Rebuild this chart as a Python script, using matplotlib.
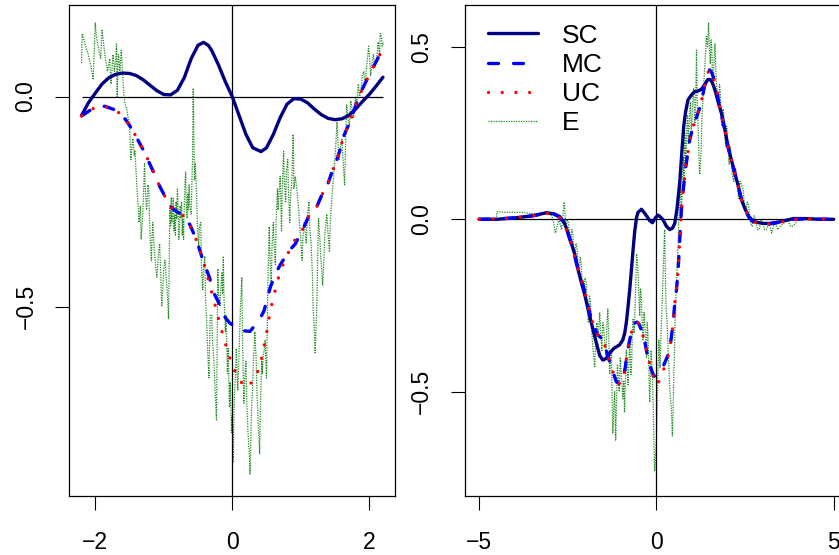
import matplotlib
matplotlib.use("Agg")
import matplotlib.pyplot as plt

plt.rcParams['font.family'] = ['Liberation Sans', 'DejaVu Sans']

# ---- left panel data ----
sc_left_x = [-2.2, -2.1, -2.0, -1.9, -1.8, -1.7, -1.6, -1.5, -1.4, -1.3, -1.2, -1.1, -1.0,
             -0.9, -0.8, -0.7, -0.6, -0.5, -0.42, -0.35, -0.3, -0.2, -0.1, 0.0, 0.1, 0.2,
             0.3, 0.42, 0.5, 0.6, 0.7, 0.8, 0.9, 1.0, 1.1, 1.2, 1.3, 1.4, 1.5, 1.6, 1.7,
             1.8, 1.9, 2.0, 2.1, 2.2]
sc_left_y = [-0.045, -0.015, 0.008, 0.03, 0.045, 0.053, 0.056, 0.055, 0.05, 0.04, 0.027,
             0.014, 0.005, 0.004, 0.015, 0.045, 0.09, 0.122, 0.129, 0.122, 0.11, 0.075,
             0.035, 0.0, -0.045, -0.09, -0.122, -0.131, -0.122, -0.09, -0.05, -0.018,
             -0.005, -0.006, -0.015, -0.03, -0.043, -0.052, -0.055, -0.053, -0.045, -0.03,
             -0.012, 0.005, 0.025, 0.046]

mc_left_x = [-2.2, -2.04, -1.86, -1.69, -1.556, -1.45, -1.366, -1.278, -1.205, -1.132,
             -1.058, -0.975, -0.887, -0.81, -0.726, -0.619, -0.546, -0.483, -0.433, -0.385,
             -0.33, -0.28, -0.2, -0.13, -0.044, 0.11, 0.26, 0.395, 0.464, 0.52, 0.56, 0.64,
             0.7, 0.82, 0.92, 1.04, 1.113, 1.235, 1.309, 1.391, 1.455, 1.518, 1.577, 1.625,
             1.699, 1.763, 1.821, 1.894, 1.977, 2.055, 2.138, 2.2]
mc_left_y = [-0.046, -0.029, -0.023, -0.033, -0.055, -0.081, -0.107, -0.133, -0.16, -0.186,
             -0.214, -0.24, -0.264, -0.274, -0.282, -0.305, -0.332, -0.361, -0.387, -0.408,
             -0.432, -0.464, -0.49, -0.52, -0.538, -0.557, -0.559, -0.532, -0.51, -0.476,
             -0.452, -0.419, -0.401, -0.369, -0.351, -0.313, -0.286, -0.262, -0.234, -0.21,
             -0.18, -0.155, -0.125, -0.095, -0.067, -0.04, -0.012, 0.016, 0.044, 0.069,
             0.095, 0.113]

uc_left_x = [-2.2, -2.04, -1.86, -1.69, -1.556, -1.45, -1.366, -1.278, -1.205, -1.132,
             -1.058, -0.975, -0.887, -0.81, -0.726, -0.619, -0.546, -0.483, -0.433, -0.385,
             -0.337, -0.287, -0.243, -0.195, -0.151, -0.102, -0.048, 0.015, 0.083, 0.2,
             0.322, 0.391, 0.435, 0.469, 0.503, 0.532, 0.567, 0.61, 0.65, 0.703, 0.767,
             0.845, 0.933, 1.04, 1.113, 1.235, 1.309, 1.391, 1.455, 1.518, 1.577, 1.625,
             1.699, 1.763, 1.821, 1.894, 1.977, 2.055, 2.138, 2.2]
uc_left_y = [-0.046, -0.029, -0.023, -0.033, -0.055, -0.081, -0.107, -0.133, -0.16, -0.186,
             -0.214, -0.24, -0.264, -0.274, -0.282, -0.305, -0.332, -0.361, -0.387, -0.412,
             -0.444, -0.474, -0.501, -0.532, -0.559, -0.587, -0.616, -0.645, -0.671, -0.693,
             -0.675, -0.647, -0.619, -0.59, -0.561, -0.532, -0.502, -0.474, -0.444, -0.417,
             -0.389, -0.363, -0.335, -0.313, -0.286, -0.262, -0.234, -0.21, -0.18, -0.155,
             -0.125, -0.095, -0.067, -0.04, -0.012, 0.016, 0.044, 0.069, 0.095, 0.113]

e_left_points = [
    (-2.20, 0.08), (-2.19, 0.15), (-2.14, 0.12), (-2.10, 0.10), (-2.06, 0.07), (-2.03, 0.04),
    (-2.00, 0.175), (-1.98, 0.14), (-1.96, 0.12), (-1.92, 0.09), (-1.90, 0.16), (-1.88, 0.13),
    (-1.86, 0.10), (-1.84, 0.08), (-1.82, 0.06), (-1.79, 0.09), (-1.77, 0.03), (-1.75, 0.08),
    (-1.74, 0.10), (-1.72, 0.06), (-1.70, 0.09), (-1.69, 0.125), (-1.68, 0.00), (-1.67, 0.07),
    (-1.66, 0.10), (-1.64, 0.06), (-1.62, 0.11), (-1.60, 0.05), (-1.58, 0.00), (-1.56, -0.02),
    (-1.54, -0.03), (-1.52, -0.05), (-1.50, -0.07), (-1.48, -0.15), (-1.46, -0.11),
    (-1.45, -0.10), (-1.43, -0.14), (-1.42, -0.13), (-1.40, -0.19), (-1.39, -0.22),
    (-1.37, -0.27), (-1.36, -0.30), (-1.34, -0.26), (-1.33, -0.34), (-1.31, -0.29),
    (-1.30, -0.25), (-1.28, -0.16), (-1.27, -0.22), (-1.25, -0.27), (-1.23, -0.21),
    (-1.22, -0.22), (-1.20, -0.33), (-1.18, -0.39), (-1.17, -0.33), (-1.16, -0.30),
    (-1.14, -0.36), (-1.12, -0.40), (-1.10, -0.43), (-1.08, -0.38), (-1.06, -0.35),
    (-1.04, -0.44), (-1.03, -0.50), (-1.01, -0.45), (-1.00, -0.41), (-0.98, -0.39),
    (-0.96, -0.44), (-0.95, -0.46), (-0.93, -0.53), (-0.92, -0.40), (-0.91, -0.26),
    (-0.90, -0.31), (-0.89, -0.24), (-0.88, -0.30), (-0.87, -0.27), (-0.86, -0.24),
    (-0.85, -0.32), (-0.84, -0.28), (-0.83, -0.33), (-0.82, -0.25), (-0.81, -0.29),
    (-0.80, -0.22), (-0.79, -0.27), (-0.78, -0.34), (-0.77, -0.31), (-0.76, -0.26),
    (-0.75, -0.29), (-0.74, -0.25), (-0.73, -0.33), (-0.72, -0.29), (-0.71, -0.34),
    (-0.70, -0.26), (-0.69, -0.21), (-0.68, -0.18), (-0.67, -0.26), (-0.66, -0.29),
    (-0.65, -0.23), (-0.64, -0.27), (-0.63, -0.21), (-0.62, -0.26), (-0.60, -0.28),
    (-0.58, -0.15), (-0.57, 0.02), (-0.56, -0.10), (-0.55, -0.20), (-0.54, -0.16),
    (-0.52, -0.23), (-0.51, -0.30), (-0.49, -0.36), (-0.48, -0.31), (-0.46, -0.30),
    (-0.45, -0.40), (-0.43, -0.46), (-0.42, -0.41), (-0.40, -0.38), (-0.39, -0.48),
    (-0.37, -0.55), (-0.36, -0.60), (-0.34, -0.67), (-0.33, -0.58), (-0.32, -0.52),
    (-0.30, -0.52), (-0.29, -0.58), (-0.27, -0.62), (-0.25, -0.70), (-0.23, -0.77),
    (-0.22, -0.60), (-0.21, -0.41), (-0.20, -0.47), (-0.18, -0.50), (-0.16, -0.44),
    (-0.15, -0.42), (-0.14, -0.47), (-0.13, -0.38), (-0.12, -0.48), (-0.10, -0.56),
    (-0.09, -0.52), (-0.07, -0.66), (-0.06, -0.60), (-0.04, -0.74), (-0.03, -0.68),
    (-0.01, -0.80), (0.00, -0.76), (0.015, -0.87), (0.02, -0.80), (0.03, -0.72),
    (0.05, -0.65), (0.06, -0.60), (0.08, -0.70), (0.09, -0.66), (0.11, -0.55), (0.12, -0.50),
    (0.13, -0.47), (0.14, -0.43), (0.15, -0.58), (0.17, -0.73), (0.18, -0.68), (0.20, -0.63),
    (0.21, -0.72), (0.23, -0.80), (0.25, -0.85), (0.26, -0.90), (0.27, -0.82), (0.28, -0.75),
    (0.30, -0.68), (0.31, -0.62), (0.32, -0.60), (0.33, -0.56), (0.35, -0.63), (0.36, -0.70),
    (0.38, -0.78), (0.40, -0.85), (0.41, -0.75), (0.43, -0.63), (0.44, -0.66), (0.45, -0.62),
    (0.47, -0.60), (0.48, -0.58), (0.49, -0.63), (0.50, -0.67), (0.52, -0.45), (0.54, -0.31),
    (0.55, -0.38), (0.57, -0.45), (0.58, -0.36), (0.60, -0.30), (0.61, -0.35), (0.63, -0.40),
    (0.64, -0.30), (0.66, -0.22), (0.67, -0.27), (0.68, -0.24), (0.70, -0.19), (0.71, -0.26),
    (0.72, -0.32), (0.73, -0.22), (0.75, -0.13), (0.76, -0.20), (0.78, -0.25), (0.79, -0.18),
    (0.81, -0.15), (0.82, -0.22), (0.84, -0.30), (0.85, -0.24), (0.87, -0.20), (0.88, -0.14),
    (0.89, -0.09), (0.90, -0.22), (0.92, -0.19), (0.95, -0.23), (0.97, -0.27), (0.98, -0.30),
    (1.00, -0.34), (1.02, -0.39), (1.03, -0.34), (1.05, -0.30), (1.07, -0.33), (1.08, -0.35),
    (1.10, -0.28), (1.12, -0.25), (1.13, -0.31), (1.15, -0.35), (1.17, -0.42), (1.18, -0.50),
    (1.20, -0.56), (1.21, -0.61), (1.23, -0.52), (1.24, -0.45), (1.25, -0.36), (1.26, -0.29),
    (1.28, -0.34), (1.29, -0.38), (1.31, -0.42), (1.32, -0.45), (1.34, -0.38), (1.35, -0.33),
    (1.37, -0.30), (1.38, -0.28), (1.40, -0.33), (1.42, -0.37), (1.43, -0.30), (1.45, -0.25),
    (1.47, -0.21), (1.48, -0.19), (1.50, -0.14), (1.51, -0.12), (1.53, -0.06), (1.54, -0.10),
    (1.56, -0.15), (1.58, -0.12), (1.60, -0.10), (1.62, -0.16), (1.64, -0.21), (1.66, -0.08),
    (1.67, -0.02), (1.69, -0.05), (1.71, -0.07), (1.73, -0.01), (1.75, -0.03), (1.77, -0.05),
    (1.80, 0.00), (1.82, -0.02), (1.84, 0.03), (1.86, 0.00), (1.88, 0.02), (1.90, 0.05),
    (1.92, 0.06), (1.94, 0.03), (1.96, 0.07), (1.98, 0.10), (1.99, 0.12), (2.01, 0.08),
    (2.02, 0.05), (2.04, 0.08), (2.06, 0.10), (2.08, 0.07), (2.10, 0.08), (2.12, 0.11),
    (2.13, 0.13), (2.15, 0.10), (2.16, 0.15), (2.18, 0.14), (2.19, 0.12), (2.21, 0.13),
]

# ---- right panel data ----
sc_right_x = [-5.0, -4.5, -4.0, -3.5, -3.1, -2.9, -2.73, -2.6, -2.54, -2.43, -2.31, -2.2,
              -2.1, -2.03, -1.93, -1.81, -1.69, -1.6, -1.51, -1.41, -1.32, -1.2, -1.04,
              -0.95, -0.895, -0.85, -0.8, -0.75, -0.706, -0.66, -0.613, -0.56, -0.52,
              -0.424, -0.35, -0.265, -0.19, -0.113, -0.03, 0.045, 0.12, 0.19, 0.28, 0.376,
              0.45, 0.517, 0.58, 0.66, 0.72, 0.77, 0.82, 0.89, 1.0, 1.08, 1.18, 1.27, 1.36,
              1.45, 1.52, 1.58, 1.65, 1.74, 1.84, 1.93, 2.02, 2.12, 2.21, 2.3, 2.4, 2.5,
              2.59, 2.7, 2.8, 3.0, 3.2, 3.5, 3.86, 4.2, 4.6, 5.0]
sc_right_y = [0.0, 0.0, 0.004, 0.01, 0.019, 0.016, 0.008, -0.01, -0.026, -0.06, -0.099,
              -0.15, -0.19, -0.215, -0.26, -0.311, -0.36, -0.395, -0.408, -0.403, -0.388,
              -0.374, -0.364, -0.35, -0.33, -0.3, -0.253, -0.2, -0.147, -0.09, -0.035,
              0.005, 0.02, 0.029, 0.02, 0.008, -0.004, -0.01, 0.004, 0.012, 0.006, -0.002,
              -0.02, -0.03, -0.026, -0.012, 0.03, 0.11, 0.2, 0.27, 0.31, 0.346, 0.362,
              0.37, 0.372, 0.377, 0.39, 0.405, 0.405, 0.395, 0.375, 0.34, 0.305, 0.26,
              0.21, 0.17, 0.133, 0.1, 0.056, 0.03, 0.01, -0.003, -0.008, -0.012, -0.012,
              -0.007, 0.002, 0.002, 0.0, 0.0]

mc_right_x = [-5.0, -4.5, -4.0, -3.5, -3.1, -2.9, -2.75, -2.62, -2.5, -2.36, -2.25, -2.17,
              -2.1, -2.03, -1.95, -1.88, -1.79, -1.72, -1.65, -1.55, -1.46, -1.35, -1.25,
              -1.13, -1.05, -0.96, -0.876, -0.83, -0.754, -0.71, -0.613, -0.55, -0.5,
              -0.424, -0.33, -0.237, -0.141, -0.07, 0.0, 0.05, 0.12, 0.186, 0.28, 0.376,
              0.47, 0.517, 0.565, 0.61, 0.658, 0.706, 0.751, 0.828, 0.94, 1.034, 1.147,
              1.243, 1.316, 1.393, 1.45, 1.5, 1.56, 1.6, 1.695, 1.816, 1.93, 2.02, 2.12,
              2.21, 2.3, 2.4, 2.5, 2.6, 2.7, 2.85, 3.06, 3.3, 3.5, 3.86, 4.2, 4.6, 5.0]
mc_right_y = [0.0, 0.001, 0.004, 0.01, 0.017, 0.015, 0.008, -0.01, -0.04, -0.084, -0.13,
              -0.161, -0.18, -0.205, -0.24, -0.272, -0.301, -0.32, -0.335, -0.345, -0.364,
              -0.403, -0.435, -0.471, -0.476, -0.474, -0.427, -0.388, -0.35, -0.33, -0.301,
              -0.298, -0.302, -0.321, -0.355, -0.403, -0.437, -0.455, -0.451, -0.44,
              -0.432, -0.427, -0.405, -0.379, -0.301, -0.243, -0.205, -0.15, -0.06, 0.03,
              0.08, 0.152, 0.23, 0.27, 0.3, 0.331, 0.365, 0.404, 0.425, 0.433, 0.425,
              0.413, 0.375, 0.307, 0.26, 0.21, 0.17, 0.133, 0.098, 0.056, 0.028, 0.008,
              -0.005, -0.012, -0.014, -0.012, -0.008, 0.0, 0.001, 0.0, 0.0]

uc_right_x = [-5.0, -4.5, -4.0, -3.5, -3.1, -2.9, -2.75, -2.62, -2.5, -2.36, -2.25, -2.17,
              -2.1, -2.03, -1.95, -1.88, -1.79, -1.72, -1.65, -1.55, -1.46, -1.35, -1.25,
              -1.13, -1.05, -0.96, -0.876, -0.83, -0.754, -0.71, -0.613, -0.55, -0.5,
              -0.424, -0.33, -0.237, -0.141, -0.076, 0.028, 0.14, 0.28, 0.376,
              0.47, 0.517, 0.565, 0.61, 0.658, 0.706, 0.751, 0.828, 0.94, 1.034, 1.147,
              1.243, 1.316, 1.393, 1.45, 1.5, 1.56, 1.6, 1.695, 1.816, 1.93, 2.02, 2.12,
              2.21, 2.3, 2.4, 2.5, 2.6, 2.7, 2.85, 3.06, 3.3, 3.5, 3.86, 4.2, 4.6, 5.0]
uc_right_y = [0.0, 0.001, 0.004, 0.01, 0.017, 0.015, 0.008, -0.01, -0.04, -0.084, -0.13,
              -0.161, -0.18, -0.205, -0.24, -0.272, -0.301, -0.32, -0.335, -0.345, -0.364,
              -0.403, -0.435, -0.471, -0.476, -0.474, -0.427, -0.388, -0.35, -0.33, -0.301,
              -0.298, -0.302, -0.321, -0.355, -0.403, -0.437, -0.461, -0.48, -0.451,
              -0.416, -0.379, -0.301, -0.243, -0.205, -0.15, -0.06, 0.03,
              0.08, 0.152, 0.23, 0.27, 0.3, 0.331, 0.365, 0.404, 0.425, 0.433, 0.425,
              0.413, 0.375, 0.307, 0.26, 0.21, 0.17, 0.133, 0.098, 0.056, 0.028, 0.008,
              -0.005, -0.012, -0.014, -0.012, -0.008, 0.0, 0.001, 0.0, 0.0]

e_right_points = [
    (-4.52, 0.00), (-4.50, 0.022), (-4.2, 0.02), (-3.8, 0.02), (-3.4, 0.015), (-3.1, 0.02),
    (-3.0, 0.012), (-2.95, 0.01), (-2.90, -0.01), (-2.85, -0.04), (-2.80, -0.02), (-2.75, 0.00),
    (-2.70, -0.02), (-2.68, -0.03), (-2.64, 0.01), (-2.60, 0.05), (-2.57, 0.00), (-2.55, -0.03),
    (-2.52, 0.00), (-2.48, -0.01), (-2.45, -0.05), (-2.42, -0.07), (-2.39, -0.03),
    (-2.36, -0.04), (-2.33, -0.09), (-2.30, -0.11), (-2.27, -0.07), (-2.24, -0.08),
    (-2.21, -0.14), (-2.18, -0.16), (-2.15, -0.11), (-2.12, -0.13), (-2.09, -0.19),
    (-2.05, -0.22), (-2.02, -0.17), (-1.98, -0.18), (-1.95, -0.26), (-1.92, -0.30),
    (-1.89, -0.22), (-1.86, -0.24), (-1.83, -0.32), (-1.80, -0.36), (-1.77, -0.40),
    (-1.74, -0.43), (-1.71, -0.35), (-1.68, -0.30), (-1.64, -0.34), (-1.60, -0.27),
    (-1.57, -0.33), (-1.54, -0.38), (-1.51, -0.30), (-1.48, -0.32), (-1.45, -0.37),
    (-1.42, -0.40), (-1.40, -0.31), (-1.37, -0.26), (-1.34, -0.36), (-1.32, -0.45),
    (-1.29, -0.40), (-1.27, -0.38), (-1.25, -0.52), (-1.23, -0.62), (-1.20, -0.55),
    (-1.18, -0.50), (-1.16, -0.58), (-1.15, -0.64), (-1.12, -0.50), (-1.10, -0.42),
    (-1.07, -0.47), (-1.05, -0.50), (-1.02, -0.40), (-1.00, -0.44), (-0.97, -0.48),
    (-0.95, -0.52), (-0.92, -0.47), (-0.90, -0.56), (-0.87, -0.45), (-0.85, -0.38),
    (-0.82, -0.44), (-0.80, -0.48), (-0.77, -0.40), (-0.75, -0.36), (-0.72, -0.45),
    (-0.70, -0.42), (-0.68, -0.33), (-0.66, -0.29), (-0.63, -0.33), (-0.60, -0.25),
    (-0.58, -0.18), (-0.56, -0.10), (-0.54, -0.12), (-0.52, -0.15), (-0.49, -0.24),
    (-0.47, -0.28), (-0.45, -0.20), (-0.43, -0.22), (-0.40, -0.30), (-0.38, -0.35),
    (-0.35, -0.27), (-0.33, -0.30), (-0.30, -0.36), (-0.28, -0.40), (-0.26, -0.30),
    (-0.24, -0.33), (-0.21, -0.45), (-0.19, -0.53), (-0.17, -0.45), (-0.15, -0.38),
    (-0.12, -0.44), (-0.10, -0.50), (-0.08, -0.60), (-0.05, -0.73), (-0.02, -0.68),
    (0.00, -0.64), (0.02, -0.55), (0.04, -0.45), (0.07, -0.35), (0.09, -0.40), (0.10, -0.43),
    (0.12, -0.36), (0.14, -0.30), (0.16, -0.25), (0.18, -0.18), (0.20, -0.12), (0.23, -0.03),
    (0.25, -0.15), (0.27, -0.25), (0.30, -0.30), (0.32, -0.35), (0.35, -0.42), (0.37, -0.48),
    (0.40, -0.52), (0.42, -0.55), (0.45, -0.63), (0.47, -0.55), (0.49, -0.45), (0.51, -0.38),
    (0.52, -0.32), (0.54, -0.25), (0.56, -0.20), (0.58, -0.14), (0.60, -0.10), (0.62, -0.04),
    (0.64, 0.02), (0.66, 0.06), (0.68, 0.10), (0.70, 0.04), (0.72, 0.06), (0.74, 0.14),
    (0.76, 0.18), (0.78, 0.12), (0.80, 0.25), (0.82, 0.17), (0.84, 0.20), (0.86, 0.28),
    (0.88, 0.30), (0.90, 0.22), (0.92, 0.27), (0.94, 0.32), (0.96, 0.34), (0.98, 0.26),
    (1.00, 0.28), (1.03, 0.36), (1.05, 0.38), (1.08, 0.27), (1.10, 0.30), (1.13, 0.49),
    (1.15, 0.35), (1.18, 0.25), (1.20, 0.18), (1.22, 0.13), (1.24, 0.16), (1.26, 0.20),
    (1.28, 0.28), (1.30, 0.33), (1.33, 0.38), (1.35, 0.42), (1.38, 0.47), (1.41, 0.53),
    (1.44, 0.50), (1.47, 0.57), (1.50, 0.48), (1.52, 0.45), (1.54, 0.52), (1.56, 0.50),
    (1.58, 0.43), (1.60, 0.40), (1.63, 0.47), (1.65, 0.51), (1.68, 0.42), (1.70, 0.38),
    (1.73, 0.36), (1.75, 0.33), (1.78, 0.39), (1.80, 0.37), (1.83, 0.30), (1.85, 0.27),
    (1.88, 0.32), (1.90, 0.30), (1.93, 0.24), (1.95, 0.21), (1.98, 0.27), (2.00, 0.25),
    (2.03, 0.19), (2.05, 0.16), (2.08, 0.21), (2.10, 0.19), (2.14, 0.13), (2.18, 0.11),
    (2.22, 0.15), (2.25, 0.14), (2.29, 0.09), (2.32, 0.06), (2.36, 0.11), (2.40, 0.10),
    (2.45, 0.085), (2.48, 0.04), (2.52, 0.02), (2.56, 0.05), (2.60, 0.04), (2.65, -0.01),
    (2.70, -0.02), (2.75, 0.01), (2.80, 0.00), (2.85, -0.03), (2.90, -0.03), (2.95, 0.00),
    (3.00, -0.01), (3.05, -0.03), (3.10, -0.03), (3.18, -0.01), (3.25, -0.04), (3.30, -0.02),
    (3.35, -0.01), (3.42, -0.03), (3.50, -0.02), (3.60, -0.01), (3.70, 0.00), (3.78, -0.02),
    (3.86, -0.02), (4.00, 0.00),
]

series_names = ["SC", "MC", "UC", "E"]

left_xticks = [-2, 0, 2]
left_yticks = [-0.5, 0.0]
left_yticklabels = ["\u22120.5", "0.0"]
right_xticks = [-5, 0, 5]
right_yticks = [-0.5, 0.0, 0.5]
right_yticklabels = ["\u22120.5", "0.0", "0.5"]

styles = {
    "SC": dict(color="#000080", lw=2.4, solid_capstyle="round"),
    "MC": dict(color="#0000FF", lw=2.4, dashes=(3, 4.5), dash_capstyle="round"),
    "UC": dict(color="#FF0000", lw=2.4, dashes=(0.01, 4.1), dash_capstyle="round"),
    "E": dict(color="#228B22", lw=0.9, dashes=(1, 1)),
}


def style_axes(ax, xticks, yticks, yticklabels):
    for s in ax.spines.values():
        s.set_linewidth(0.9)
        s.set_color("black")
    ax.set_xticks(xticks)
    ax.set_xticklabels([str(t).replace("-", "\u2212") for t in xticks])
    ax.set_yticks(yticks)
    ax.set_yticklabels(yticklabels)
    ax.tick_params(direction="out", length=10, width=0.8, labelsize=16.5, colors="black")
    ax.tick_params(axis="x", pad=15)
    ax.tick_params(axis="y", pad=13, labelrotation=90)
    for lbl in ax.get_yticklabels():
        lbl.set_va("center")


def draw_panel(ax, sc, mc, uc, e_points):
    ex = [p[0] for p in e_points]
    ey = [p[1] for p in e_points]
    ax.plot(ex, ey, zorder=2, **styles["E"])
    ax.hlines(0, min(sc[0]), max(sc[0]), color="black", lw=0.9, zorder=2.5)
    ax.axvline(0, color="black", lw=0.9, zorder=2.5)
    ax.plot(sc[0], sc[1], zorder=3, **styles["SC"])
    ax.plot(mc[0], mc[1], zorder=4, **styles["MC"])
    ax.plot(uc[0], uc[1], zorder=5, **styles["UC"])


fig = plt.figure(figsize=(8.39, 5.55), dpi=100)
ax1 = fig.add_axes([0.0828, 0.1063, 0.388, 0.8847])
ax2 = fig.add_axes([0.5542, 0.1063, 0.4564, 0.8847])

draw_panel(ax1, (sc_left_x, sc_left_y), (mc_left_x, mc_left_y),
           (uc_left_x, uc_left_y), e_left_points)
ax1.set_xlim(-2.376, 2.376)
ax1.set_ylim(-0.951, 0.218)
style_axes(ax1, left_xticks, left_yticks, left_yticklabels)

draw_panel(ax2, (sc_right_x, sc_right_y), (mc_right_x, mc_right_y),
           (uc_right_x, uc_right_y), e_right_points)
ax2.set_xlim(-5.4, 5.4)
ax2.set_ylim(-0.802, 0.621)
style_axes(ax2, right_xticks, right_yticks, right_yticklabels)

handles = [plt.Line2D([], [], **styles[n]) for n in series_names]
ax2.legend(handles, series_names, loc="upper left", bbox_to_anchor=(0.06, 0.962),
           frameon=False, fontsize=19, handlelength=1.9, handletextpad=0.9,
           labelspacing=0.2, borderpad=0, borderaxespad=0)

fig.savefig("out.png", dpi=100)
